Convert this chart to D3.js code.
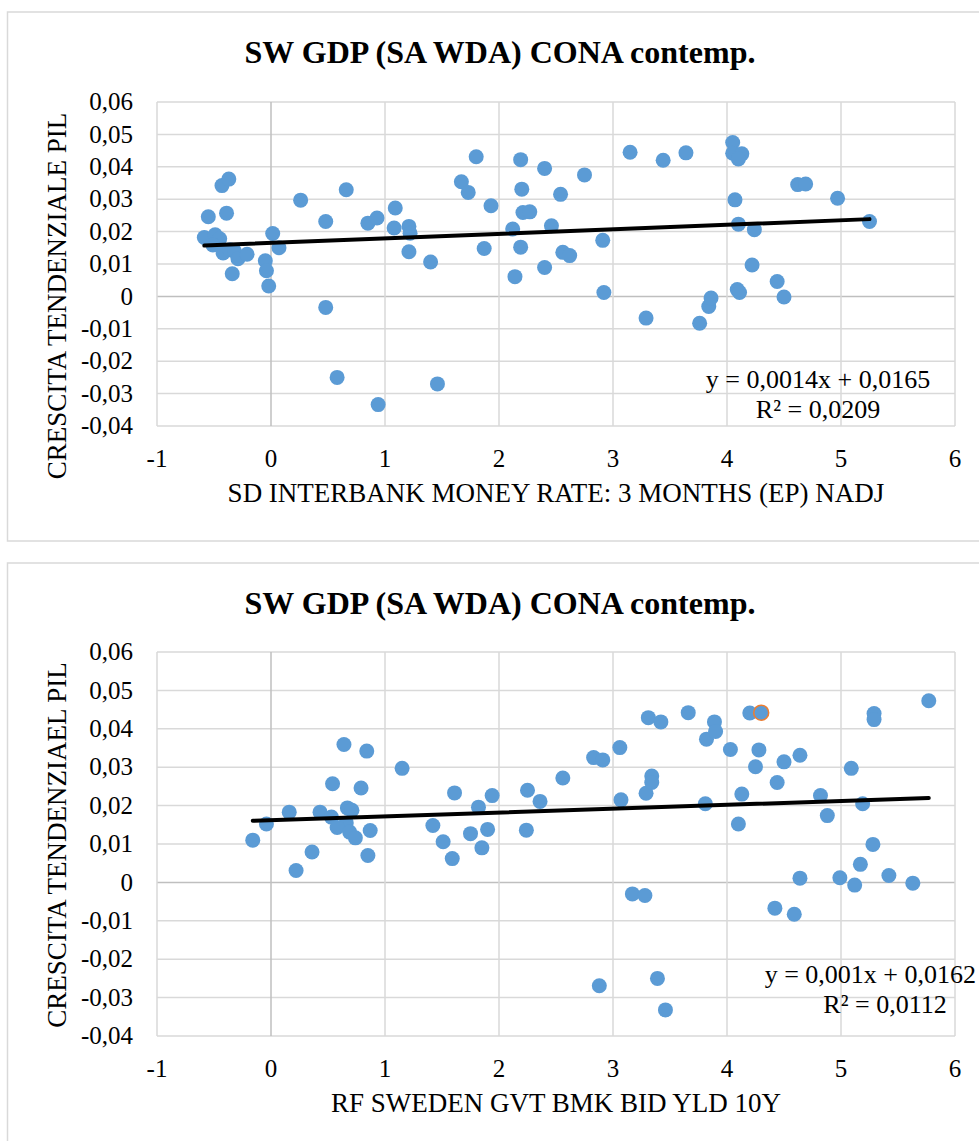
<!DOCTYPE html>
<html><head><meta charset="utf-8">
<script src="https://cdnjs.cloudflare.com/ajax/libs/d3/7.8.5/d3.min.js"></script>
<style>
html,body{margin:0;padding:0;background:#fff;}
svg{display:block;font-family:"Liberation Serif","Times New Roman",serif;}
svg text{font-family:"Liberation Serif","Times New Roman",serif;}
</style></head><body>
<svg id="c" width="979" height="1141"></svg>
<script>
// ---------- DATA ----------
const chartTitle = "SW GDP (SA WDA) CONA contemp.";
const xTicks = [-1, 0, 1, 2, 3, 4, 5, 6];
const yTicks = [-0.04, -0.03, -0.02, -0.01, 0, 0.01, 0.02, 0.03, 0.04, 0.05, 0.06];

// Chart 1: SD interbank money rate 3M vs GDP growth
const topX = [-0.585,-0.55,-0.49,-0.45,-0.51,-0.42,-0.36,-0.32,-0.29,-0.21,-0.34,-0.43,-0.37,-0.39,
  0.015,-0.05,-0.04,-0.02,0.07,0.26,0.48,0.66,0.48,0.58,0.94,1.46,0.85,0.93,1.09,1.08,1.21,1.22,1.21,1.40,
  1.80,1.67,1.73,1.93,1.87,2.12,2.19,2.20,2.21,2.27,2.19,2.14,2.40,2.54,2.46,2.40,2.56,2.62,2.75,2.91,2.92,
  3.15,3.29,3.44,3.64,3.76,3.84,3.86,4.05,4.05,4.13,4.10,4.07,4.10,4.24,4.22,4.09,4.11,4.44,4.50,4.62,4.69,4.97,5.25];
const topY = [0.0182,0.0246,0.0190,0.0178,0.0159,0.0134,0.0144,0.0139,0.0116,0.0130,0.0070,0.0342,0.0362,0.0257,
  0.0194,0.0110,0.0079,0.0032,0.0150,0.0297,0.0231,0.0329,-0.0034,-0.0250,-0.0334,-0.0270,0.0226,0.0242,0.0273,0.0211,0.0216,0.0195,0.0138,0.0106,
  0.0431,0.0354,0.0321,0.0280,0.0148,0.0208,0.0422,0.0331,0.0259,0.0261,0.0152,0.0061,0.0395,0.0315,0.0218,0.0089,0.0136,0.0126,0.0375,0.0173,0.0012,
  0.0445,-0.0067,0.0420,0.0443,-0.0083,-0.0031,-0.0005,0.0475,0.0442,0.0440,0.0424,0.0298,0.0223,0.0206,0.0097,0.0021,0.0012,0.0046,-0.0002,0.0345,0.0347,0.0303,0.0231];
const topTrend = [0.0014, 0.0165]; // slope, intercept
const topEq = ["y = 0,0014x + 0,0165", "R² = 0,0209"];
const topXLabel = "SD INTERBANK MONEY RATE: 3 MONTHS (EP) NADJ";
const topYLabel = "CRESCITA TENDENZIALE PIL";

// Chart 2: Sweden govt benchmark 10Y yield vs GDP growth
const botX = [0.64,0.84,1.15,0.54,0.79,0.16,0.43,0.53,0.67,0.71,0.66,0.58,0.69,0.74,0.87,-0.04,-0.16,0.36,0.22,0.85,
  1.42,1.51,1.61,1.59,1.75,1.82,1.90,1.85,1.94,2.25,2.36,2.24,2.56,2.83,2.91,3.06,3.07,2.88,3.17,3.28,3.29,3.34,3.34,
  3.31,3.42,3.39,3.46,3.66,3.82,3.89,3.90,3.81,4.03,4.10,4.13,4.20,4.30,4.28,4.25,4.50,4.64,4.44,5.09,4.82,4.88,5.19,
  5.29,5.29,5.77,5.28,5.17,4.64,4.99,5.12,5.42,5.63,4.42,4.59];
const botY = [0.0359,0.0342,0.0297,0.0257,0.0246,0.0183,0.0183,0.0170,0.0194,0.0188,0.0155,0.0143,0.0131,0.0116,0.0135,0.0152,0.0110,0.0079,0.0031,0.0070,
  0.0148,0.0106,0.0233,0.0062,0.0127,0.0196,0.0138,0.0090,0.0226,0.0240,0.0211,0.0136,0.0272,0.0325,0.0319,0.0351,0.0215,-0.0269,-0.0030,-0.0034,0.0232,0.0277,0.0260,
  0.0429,0.0418,-0.0250,-0.0332,0.0442,0.0373,0.0418,0.0393,0.0205,0.0346,0.0152,0.0230,0.0441,0.0442,0.0345,0.0301,0.0314,0.0331,0.0260,0.0297,0.0226,0.0174,0.0205,
  0.0440,0.0424,0.0473,0.0099,0.0047,0.0011,0.0012,-0.0007,0.0018,-0.0002,-0.0067,-0.0083];
const botHighlight = [56]; // index of point with orange outline
const botTrend = [0.001, 0.0162];
const botEq = ["y = 0,001x + 0,0162", "R² = 0,0112"];
const botXLabel = "RF SWEDEN GVT BMK BID YLD 10Y";
const botYLabel = "CRESCITA TENDENZIAEL PIL";

// ---------- DRAW ----------
const svg = d3.select("#c");
const FONT = '"Liberation Serif","Times New Roman",serif';
const fmtY = v => v === 0 ? "0" : d3.format(".2f")(v).replace(".", ",").replace("\u2212", "-");
const fmtX = v => String(v);

function drawChart(cfg) {
  const g = svg.append("g").attr("font-family", FONT);
  // container
  g.append("rect").attr("x", 7.5).attr("y", cfg.top).attr("width", 1000).attr("height", cfg.height)
    .attr("fill", "#fff").attr("stroke", "#d9d9d9").attr("stroke-width", 1.5);
  const x = d3.scaleLinear().domain([-1, 6]).range([157, 955]);
  const y = d3.scaleLinear().domain([-0.04, 0.06]).range([cfg.pb, cfg.pt]);

  // gridlines
  g.append("g").selectAll("line").data(yTicks).join("line")
    .attr("x1", x(-1)).attr("x2", x(6)).attr("y1", d => y(d)).attr("y2", d => y(d))
    .attr("stroke", d => d === 0 ? "#bfbfbf" : "#d9d9d9").attr("stroke-width", 1.5);
  g.append("g").selectAll("line").data(xTicks).join("line")
    .attr("x1", d => x(d)).attr("x2", d => x(d)).attr("y1", y(-0.04)).attr("y2", y(0.06))
    .attr("stroke", d => d === 0 ? "#bfbfbf" : "#d9d9d9").attr("stroke-width", 1.5);

  // tick labels
  g.append("g").selectAll("text").data(yTicks).join("text")
    .attr("x", 133).attr("y", d => y(d)).attr("dy", "0.33em").attr("text-anchor", "end")
    .attr("font-size", 25).attr("fill", "#000").text(fmtY);
  g.append("g").selectAll("text").data(xTicks).join("text")
    .attr("x", d => x(d)).attr("y", cfg.pb + 41).attr("text-anchor", "middle")
    .attr("font-size", 25).attr("fill", "#000").text(fmtX);

  // title
  g.append("text").attr("x", 500).attr("y", cfg.top + 51).attr("text-anchor", "middle")
    .attr("font-size", 32).attr("font-weight", "bold").text(chartTitle);
  // axis titles
  g.append("text").attr("x", 556).attr("y", cfg.pb + 76).attr("text-anchor", "middle")
    .attr("font-size", 27).text(cfg.xLabel);
  g.append("text").attr("transform", `translate(66,${cfg.yLabelC}) rotate(-90)`)
    .attr("text-anchor", "middle").attr("font-size", 27).text(cfg.yLabel);

  // points
  const pts = cfg.xs.map((v, i) => ({x: v, y: cfg.ys[i], hi: cfg.hi.includes(i)}));
  g.append("g").selectAll("circle").data(pts).join("circle")
    .attr("cx", d => x(d.x)).attr("cy", d => y(d.y)).attr("r", 7.5)
    .attr("fill", "#5b9bd5")
    .attr("stroke", d => d.hi ? "#ed7d31" : "none").attr("stroke-width", 1.5);

  // trendline
  const xmin = d3.min(cfg.xs), xmax = d3.max(cfg.xs);
  const lineData = [xmin, xmax].map(v => ({x: v, y: cfg.trend[0] * v + cfg.trend[1]}));
  g.append("path").datum(lineData)
    .attr("d", d3.line().x(d => x(d.x)).y(d => y(d.y)))
    .attr("stroke", "#000").attr("stroke-width", 4).attr("stroke-linecap", "round").attr("fill", "none");

  // equation
  cfg.eq.forEach((t, i) => {
    const pos = cfg.eqPos[i];
    g.append("text").attr("x", pos[0]).attr("y", cfg.eqY + i * 30).attr("text-anchor", pos[1])
      .attr("font-size", 26).text(t);
  });
}

drawChart({top: 12, height: 529, pt: 102, pb: 426, xs: topX, ys: topY, hi: [], trend: topTrend,
  eq: topEq, eqPos: [[818, "middle"], [818, "middle"]], eqY: 388, xLabel: topXLabel, yLabel: topYLabel, yLabelC: 296});
drawChart({top: 563, height: 600, pt: 652, pb: 1036, xs: botX, ys: botY, hi: botHighlight, trend: botTrend,
  eq: botEq, eqPos: [[976, "end"], [885, "middle"]], eqY: 983, xLabel: botXLabel, yLabel: botYLabel, yLabelC: 845});
</script>
</body></html>
